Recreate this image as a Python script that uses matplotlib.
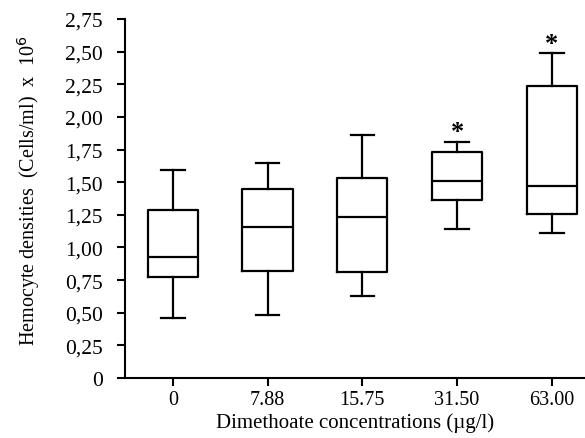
import matplotlib
matplotlib.use("Agg")
import matplotlib.pyplot as plt

# dimethoate groups
groups = ["0", "7.88", "15.75", "31.50", "63.00"]
whis_lo = [0.46, 0.48, 0.63, 1.14, 1.11]
q1 = [0.77, 0.82, 0.81, 1.36, 1.26]
median = [0.93, 1.16, 1.23, 1.51, 1.47]
q3 = [1.29, 1.45, 1.53, 1.73, 2.24]
whis_hi = [1.59, 1.65, 1.86, 1.81, 2.49]
signif = [False, False, False, True, True]

yticks = [0, 0.25, 0.5, 0.75, 1.0, 1.25, 1.5, 1.75, 2.0, 2.25, 2.5, 2.75]
ytick_labels = ["0", "0,25", "0,50", "0,75", "1,00", "1,25", "1,50",
                "1,75", "2,00", "2,25", "2,50", "2,75"]

plt.rcParams['font.family'] = ['Liberation Serif', 'DejaVu Serif']

fig = plt.figure(figsize=(5.85, 4.39), dpi=100)
ax = fig.add_axes([0.2137, 0.1367, 0.7863, 0.8177])

stats = []
for i in range(len(groups)):
    stats.append({'whislo': whis_lo[i], 'q1': q1[i], 'med': median[i],
                  'q3': q3[i], 'whishi': whis_hi[i], 'fliers': []})

lw = 1.6
ax.bxp(stats, positions=range(len(groups)), widths=0.53, showfliers=False,
       boxprops=dict(color='black', linewidth=lw),
       medianprops=dict(color='black', linewidth=lw),
       whiskerprops=dict(color='black', linewidth=lw),
       capprops=dict(color='black', linewidth=lw),
       capwidths=0.25)

for i, s in enumerate(signif):
    if s:
        ax.text(i, whis_hi[i] + 0.075, "*", ha='center', va='center',
                fontsize=19, fontweight='bold')

ax.set_xlim(-0.505, 4.35)
ax.set_ylim(0, 2.75)
ax.set_yticks(yticks)
ax.set_yticklabels(ytick_labels, fontsize=15.5)
ax.set_xticks(range(len(groups)))
ax.set_xticklabels(groups, fontsize=14.5)
ax.tick_params(direction='out', length=6, width=1.5, color='black')
ax.tick_params(axis='y', pad=10)
ax.tick_params(axis='x', pad=3)
for side in ['top', 'right']:
    ax.spines[side].set_visible(False)
for side in ['left', 'bottom']:
    ax.spines[side].set_linewidth(1.5)

fig.text(0.048, 0.565, "Hemocyte densities  (Cells/ml)  x  10$^6$",
         rotation=90, ha='center', va='center', fontsize=14.5)
ax.set_xlabel("Dimethoate concentrations (\u00b5g/l)", fontsize=15, labelpad=2)

fig.savefig("out.png", dpi=100)
